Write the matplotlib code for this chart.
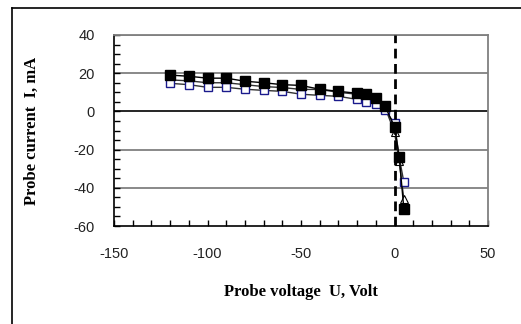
import matplotlib
matplotlib.use("Agg")
import matplotlib.pyplot as plt
from matplotlib.lines import Line2D
from matplotlib.ticker import MultipleLocator

# probe voltage, V
volt = [-120, -110, -100, -90, -80, -70, -60, -50, -40, -30, -20, -15, -10, -5, 0, 2.5, 5]

# probe current, mA (three series)
cur_filled = [19, 18.4, 17.4, 17.4, 15.8, 15, 14, 13.6, 11.6, 10.5, 9.5, 9, 7, 2.6, -8, -23.7, -51]
cur_open = [14.7, 14, 12.6, 12.6, 11.6, 11, 10.5, 9, 8.4, 7.9, 6.3, 4.7, 3.7, 0.5, -6.3, -24, -37]
cur_tri = [16.5, 16, 15, 15, 14, 13, 12.5, 11.5, 11.5, 10, 9, 8.5, 6.5, 2, -11, -26, -46]

fig = plt.figure(figsize=(5.21, 3.24), dpi=100)
ax = fig.add_axes([114/521, 1 - 226/324, 374/521, 191/324])

ax.plot(volt, cur_tri, color='#333333', lw=1, marker='^', ms=6,
        mfc='white', mec='black', mew=0.8, zorder=3)
ax.plot(volt, cur_open, color='#333333', lw=1, marker='s', ms=6,
        mfc='white', mec='#1a1a8c', mew=1, zorder=4)
ax.plot(volt, cur_filled, color='black', lw=1, marker='s', ms=7,
        mfc='black', mec='black', zorder=5)

ax.axvline(0, color='black', lw=2, ls=(0, (3.5, 2)), zorder=6)

ax.set_xlim(-150, 50)
ax.set_ylim(-60, 40)
ax.xaxis.set_major_locator(MultipleLocator(50))
ax.xaxis.set_minor_locator(MultipleLocator(10))
ax.yaxis.set_major_locator(MultipleLocator(20))
ax.yaxis.set_minor_locator(MultipleLocator(5))

for y in [-40, -20, 20, 40]:
    ax.axhline(y, color='#808080', lw=1.3, zorder=1)
ax.axhline(0, color='black', lw=1.2, zorder=1)

for s in ['top', 'right']:
    ax.spines[s].set_color('#808080')
    ax.spines[s].set_linewidth(1.3)
for s in ['left', 'bottom']:
    ax.spines[s].set_color('black')
    ax.spines[s].set_linewidth(1.2)

ax.tick_params(which='both', direction='in', top=False, right=False, color='black')
ax.tick_params(which='major', length=4, width=1)
ax.tick_params(which='minor', length=4, width=1)
ax.tick_params(axis='y', pad=14)
ax.tick_params(axis='x', pad=15)

tick_font = dict(family='Liberation Sans', size=10.5, color='#222222')
ax.set_xticks([-150, -100, -50, 0, 50])
ax.set_xticklabels(['-150', '-100', '-50', '0', '50'], **tick_font)
ax.set_yticks([-60, -40, -20, 0, 20, 40])
ax.set_yticklabels(['-60', '-40', '-20', '0', '20', '40'], **tick_font)

lab_font = dict(family='Liberation Serif', size=12, weight='bold')
ax.set_xlabel('Probe voltage  U, Volt', labelpad=17, **lab_font)
ax.set_ylabel('Probe current  I, mA', labelpad=24, **lab_font)

# outer frame (left and top edges)
fig.add_artist(Line2D([12/521, 12/521], [0, 1 - 8/324], color='black', lw=1.2))
fig.add_artist(Line2D([12/521, 1], [1 - 8/324, 1 - 8/324], color='black', lw=1.2))

fig.savefig('out.png', dpi=100)
